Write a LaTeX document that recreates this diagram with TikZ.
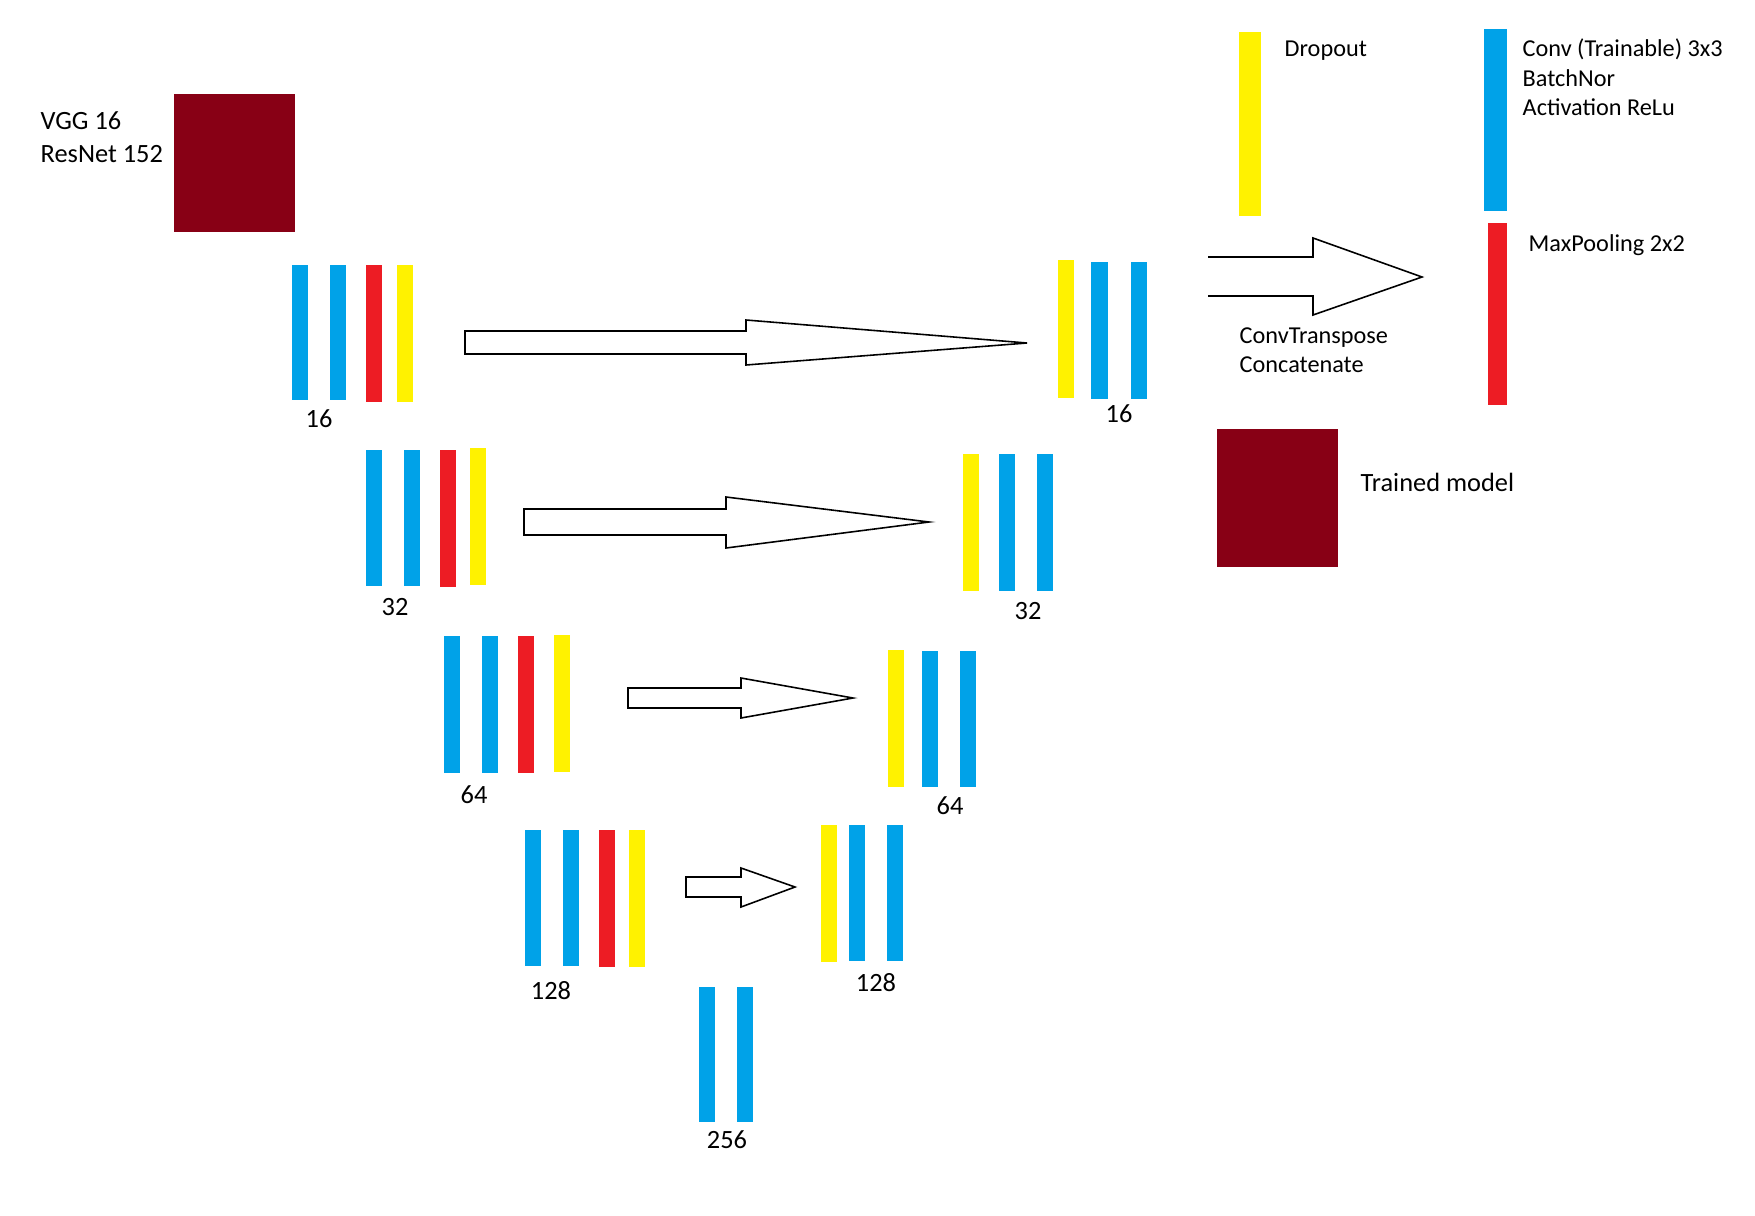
\documentclass[tikz,border=0pt]{standalone}
\usepackage{fontspec}
\setmainfont{Carlito}
\definecolor{convblue}{HTML}{00A2E8}
\definecolor{poolred}{HTML}{ED1C24}
\definecolor{dropyellow}{HTML}{FFF200}
\definecolor{modelred}{HTML}{880015}
\newcommand{\layer}[3]{\fill[#1] (#2) rectangle (#3);}
\newcommand{\skiparrow}[8]{%
  \draw[skip] (#1,#2) -- (#4,#2) -- (#4,#5) -- (#7,#8) -- (#4,#6) -- (#4,#3) -- (#1,#3) -- cycle;}

\begin{document}
\begin{tikzpicture}[x=0.01cm,y=-0.01cm,
  skip/.style={draw=black,line width=0.45pt,fill=white},
  num/.style={inner sep=0,anchor=base,font=\fontsize{7.5}{9}\selectfont},
  txt/.style={inner sep=0,anchor=base west,font=\fontsize{7.5}{9}\selectfont},
  leg/.style={inner sep=0,anchor=base west,font=\fontsize{6.9}{8.3}\selectfont}]
\useasboundingbox (0,0) rectangle (1755,1215);

% pretrained encoder
\fill[modelred] (174,94) rectangle (295,232);
\node[txt] (vgg) at (40,129) {VGG 16};
\node[txt] (resnet) at (40,162) {ResNet 152};

% encoder
\layer{convblue}{292,265}{308,400}
\layer{convblue}{330,265}{346,400}
\layer{poolred}{366,265}{382,402}
\layer{dropyellow}{397,265}{413,402}
\node[num] (e16) at (319,427) {16};

\layer{convblue}{366,450}{382,586}
\layer{convblue}{404,450}{420,586}
\layer{poolred}{440,450}{456,587}
\layer{dropyellow}{470,448}{486,585}
\node[num] (e32) at (395,615) {32};

\layer{convblue}{444,636}{460,773}
\layer{convblue}{482,636}{498,773}
\layer{poolred}{518,636}{534,773}
\layer{dropyellow}{554,635}{570,772}
\node[num] (e64) at (474,803) {64};

\layer{convblue}{525,830}{541,966}
\layer{convblue}{563,830}{579,966}
\layer{poolred}{599,830}{615,967}
\layer{dropyellow}{629,830}{645,967}
\node[num] (e128) at (551,999) {128};

% bottleneck
\layer{convblue}{699,987}{715,1122}
\layer{convblue}{737,987}{753,1122}
\node[num] (b256) at (727,1148) {256};

% decoder
\layer{dropyellow}{821,825}{837,962}
\layer{convblue}{849,825}{865,961}
\layer{convblue}{887,825}{903,961}
\node[num] (d128) at (876,991) {128};

\layer{dropyellow}{888,650}{904,787}
\layer{convblue}{922,651}{938,787}
\layer{convblue}{960,651}{976,787}
\node[num] (d64) at (950,814) {64};

\layer{dropyellow}{963,454}{979,591}
\layer{convblue}{999,454}{1015,591}
\layer{convblue}{1037,454}{1053,591}
\node[num] (d32) at (1028,619) {32};

\layer{dropyellow}{1058,260}{1074,398}
\layer{convblue}{1091,262}{1108,399}
\layer{convblue}{1131,262}{1147,399}
\node[num] (d16) at (1119,422) {16};

% skip connections
\skiparrow{465}{331}{354}{746}{320}{365}{1027}{343}
\skiparrow{524}{509}{535}{726}{497}{548}{929}{522}
\skiparrow{628}{688}{708}{741}{678}{718}{853}{698}
\skiparrow{686}{877}{897}{741}{868}{907}{795}{887}

% legend
\layer{dropyellow}{1239,32}{1261,216}
\node[leg] (ldrop) at (1284,57) {Dropout};
\layer{convblue}{1484,29}{1507,211}
\node[leg] (lconv1) at (1522,57) {Conv (Trainable) 3x3};
\node[leg] (lconv2) at (1522,86) {BatchNor};
\node[leg] (lconv3) at (1522,115) {Activation ReLu};
\layer{poolred}{1488,223}{1507,405}
\node[leg] (lpool) at (1528,251) {MaxPooling 2x2};
\draw[line width=0.45pt] (1208,257) -- (1313,257) -- (1313,238) -- (1422,277)
  -- (1313,315) -- (1313,296) -- (1208,296);
\node[leg] (lup1) at (1239,343) {ConvTranspose};
\node[leg] (lup2) at (1239,372) {Concatenate};
\fill[modelred] (1217,429) rectangle (1338,567);
\node[txt] (ltrained) at (1360,491) {Trained model};
\end{tikzpicture}
\end{document}
